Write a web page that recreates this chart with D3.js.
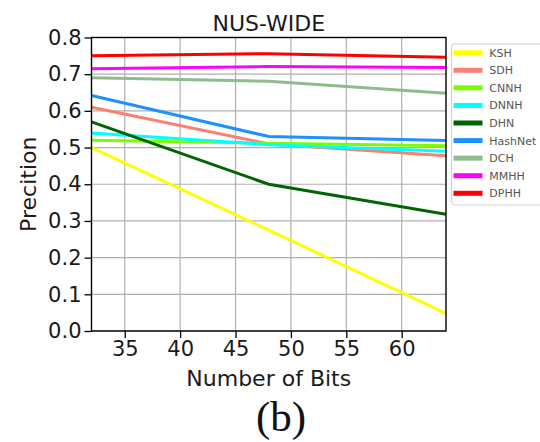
<!DOCTYPE html>
<html>
<head>
<meta charset="utf-8">
<script src="https://cdn.jsdelivr.net/npm/d3@7"></script>
<style>
  html, body { margin: 0; padding: 0; background: #fff; }
  svg { display: block; }
</style>
</head>
<body>
<svg id="chart" width="540" height="442"></svg>
<script>
// ---- data ----
const bits = [32, 48, 64];
const seriesNames = ["KSH", "SDH", "CNNH", "DNNH", "DHN", "HashNet", "DCH", "MMHH", "DPHH"];
const seriesColors = ["#ffff00", "#fa8072", "#7cfc00", "#00ffff", "#006400", "#1e90ff", "#8fbc8f", "#ff00ff", "#ff0000"];
const KSH     = [0.500, 0.275, 0.048];
const SDH     = [0.610, 0.510, 0.478];
const CNNH    = [0.520, 0.512, 0.505];
const DNNH    = [0.540, 0.508, 0.490];
const DHN     = [0.570, 0.400, 0.318];
const HashNet = [0.642, 0.530, 0.519];
const DCH     = [0.690, 0.681, 0.648];
const MMHH    = [0.715, 0.721, 0.718];
const DPHH    = [0.750, 0.756, 0.746];
const seriesValues = [KSH, SDH, CNNH, DNNH, DHN, HashNet, DCH, MMHH, DPHH];
const xTicks = [35, 40, 45, 50, 55, 60];
const yTicks = [0.0, 0.1, 0.2, 0.3, 0.4, 0.5, 0.6, 0.7, 0.8];
const titleText = "NUS-WIDE";
const xLabel = "Number of Bits";
const yLabel = "Precition";
const captionText = "(b)";

// ---- layout ----
const svg = d3.select("#chart");
const L = 91.5, R = 446, T = 37.5, B = 331;
const x = d3.scaleLinear().domain([32, 64]).range([L, R]);
const y = d3.scaleLinear().domain([0, 0.8]).range([B, T]);
const font = "DejaVu Sans, sans-serif";

// grid
const g = svg.append("g");
g.selectAll("line.vg").data(xTicks).enter().append("line")
  .attr("x1", d => x(d)).attr("x2", d => x(d)).attr("y1", T).attr("y2", B)
  .attr("stroke", "#b0b0b0").attr("stroke-width", 1.2);
g.selectAll("line.hg").data(yTicks).enter().append("line")
  .attr("x1", L).attr("x2", R).attr("y1", d => y(d)).attr("y2", d => y(d))
  .attr("stroke", "#b0b0b0").attr("stroke-width", 1.2);

// lines
const line = d3.line().x((d, i) => x(bits[i])).y(d => y(d));
svg.append("clipPath").attr("id", "clip").append("rect")
  .attr("x", L).attr("y", T).attr("width", R - L).attr("height", B - T);
seriesValues.forEach((vals, i) => {
  svg.append("path").datum(vals)
    .attr("d", line)
    .attr("fill", "none")
    .attr("stroke", seriesColors[i])
    .attr("stroke-width", 3)
    .attr("clip-path", "url(#clip)");
});

// frame
svg.append("rect").attr("x", L).attr("y", T).attr("width", R - L).attr("height", B - T)
  .attr("fill", "none").attr("stroke", "#000").attr("stroke-width", 1.4);

// axes
const xAxis = d3.axisBottom(x).tickValues(xTicks).tickSize(7).tickPadding(3).tickFormat(d3.format("d"));
const yAxis = d3.axisLeft(y).tickValues(yTicks).tickSize(7).tickPadding(3).tickFormat(d3.format(".1f"));
const gx = svg.append("g").attr("transform", `translate(0,${B})`).call(xAxis);
const gy = svg.append("g").attr("transform", `translate(${L},0)`).call(yAxis);
[gx, gy].forEach(a => {
  a.select(".domain").remove();
  a.selectAll(".tick line").attr("stroke", "#000").attr("stroke-width", 1.3);
  a.selectAll(".tick text").attr("fill", "#1a1a1a").style("font-family", font).style("font-size", "21px");
});

// title & labels
svg.append("text").attr("x", (L + R) / 2).attr("y", 30.5).attr("text-anchor", "middle")
  .style("font-family", font).style("font-size", "22px").attr("fill", "#1a1a1a").text(titleText);
svg.append("text").attr("x", (L + R) / 2).attr("y", 386).attr("text-anchor", "middle")
  .style("font-family", font).style("font-size", "22px").attr("fill", "#1a1a1a").text(xLabel);
svg.append("text").attr("transform", `translate(36,${(T + B) / 2}) rotate(-90)`).attr("text-anchor", "middle")
  .style("font-family", font).style("font-size", "22px").attr("fill", "#1a1a1a").text(yLabel);
svg.append("text").attr("x", 281).attr("y", 431).attr("text-anchor", "middle")
  .style("font-family", "Liberation Serif, Times New Roman, serif").style("font-size", "43px")
  .attr("fill", "#111").text(captionText);

// legend
const lg = svg.append("g");
lg.append("rect").attr("x", 451.5).attr("y", 44).attr("width", 110).attr("height", 161)
  .attr("rx", 3).attr("fill", "#fff").attr("stroke", "#d0d0d0").attr("stroke-width", 1);
const ly = d3.scaleLinear().domain([0, seriesNames.length - 1]).range([52.7, 193.3]);
seriesNames.forEach((name, i) => {
  lg.append("line").attr("x1", 453.5).attr("x2", 482.5).attr("y1", ly(i)).attr("y2", ly(i))
    .attr("stroke", seriesColors[i]).attr("stroke-width", 5);
  lg.append("text").attr("x", 489.3).attr("y", ly(i)).attr("dy", "0.36em")
    .style("font-family", font).style("font-size", "11px").attr("fill", "#555").text(name);
});
</script>
</body>
</html>
